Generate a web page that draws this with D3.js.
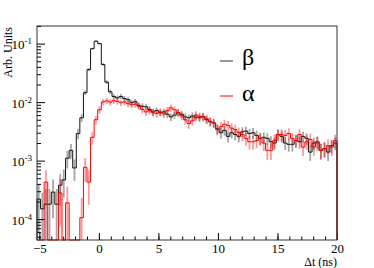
<!DOCTYPE html>
<html>
<head>
<meta charset="utf-8">
<script src="https://cdn.jsdelivr.net/npm/d3@7"></script>
<style>
  body { margin: 0; background: #fff; }
  svg, svg text { font-family: "Liberation Serif", "DejaVu Serif", serif; }
</style>
</head>
<body>
<div id="chart"></div>
<script>
// histogram binning (ns)
const binStart = -5.2;
const binWidth = 0.3;

// beta (black) contents per bin
const betaCounts = [
  2.2e-4, 1.5e-4, 1.8e-4, 1.8e-4, 2.9e-4, 1.8e-4, 3.8e-4, 4.7e-4, 1.1e-3, 1.5e-3,
  7.5e-4, 2.9e-3, 5.4e-3, 0.0145, 0.036, 0.082, 0.11, 0.1, 0.044, 0.022,
  0.015, 0.0125, 0.0118, 0.0125, 0.0115, 0.011, 0.0098, 0.0102, 0.0088, 0.0085,
  0.0083, 0.0075, 0.0068, 0.0072, 0.0066, 0.0068, 0.0062, 0.0056, 0.006, 0.0066,
  0.0062, 0.0056, 0.0054, 0.0058, 0.0055, 0.0054, 0.0057, 0.005, 0.0046, 0.0044,
  0.0035, 0.003, 0.0033, 0.0026, 0.003, 0.0028, 0.0026, 0.0031, 0.0032, 0.0029,
  0.003, 0.0027, 0.0024, 0.0025, 0.0024, 0.0021, 0.002, 0.0028, 0.0026, 0.002,
  0.0019, 0.0019, 0.0022, 0.0021, 0.0026, 0.0024, 0.0014, 0.002, 0.0021, 0.0015,
  0.0016, 0.0014, 0.0018, 0.002
];

// alpha (red) contents per bin
const alphaCounts = [
  0, 0, 4.3e-4, 0, 0, 0, 2.8e-4, 0, 1.9e-4, 0,
  0, 0, 1.06e-4, 7.7e-4, 4.3e-4, 2.5e-3, 5e-3, 0.0074, 0.0101, 0.0105,
  0.01, 0.0106, 0.0103, 0.0098, 0.0101, 0.0094, 0.009, 0.0092, 0.0085, 0.0075,
  0.0068, 0.0072, 0.0066, 0.0064, 0.0068, 0.0063, 0.0072, 0.008, 0.0074, 0.0066,
  0.0058, 0.005, 0.0043, 0.0048, 0.006, 0.0057, 0.0056, 0.0052, 0.0047, 0.0044,
  0.0034, 0.0038, 0.0042, 0.004, 0.0036, 0.0034, 0.003, 0.0028, 0.0024, 0.0021,
  0.0021, 0.0022, 0.0024, 0.002, 0.0015, 0.0015, 0.0022, 0.0028, 0.0028, 0.0027,
  0.0029, 0.0024, 0.0022, 0.0028, 0.0017, 0.0021, 0.0023, 0.0017, 0.002, 0.0015,
  0.0016, 0.0018, 0.0017, 0.0022
];

// weight of one entry, used for the sqrt(N) error bars
const betaWeight = 1.2e-4;
const alphaWeight = 1.5e-4;

const xMajorTicks = [-5, 0, 5, 10, 15, 20];
const yMajorTicks = [1e-4, 1e-3, 1e-2, 1e-1];
const legendLabels = ["β", "α"];

var margin = { top: 26, right: 37, bottom: 28, left: 37 },
  width = 374 - margin.left - margin.right,
  height = 268 - margin.top - margin.bottom;

var svg = d3
  .select("#chart")
  .append("svg")
  .attr("width", 374)
  .attr("height", 268)
  .append("g")
  .attr("transform", "translate(" + margin.left + "," + margin.top + ")");

var x = d3.scaleLinear().domain([-5.2, 20]).range([0, width]);
var y = d3.scaleLog().domain([4.4e-5, 0.2]).range([height, 0]);
var yMin = y.domain()[0];

// axes (ROOT style, ticks inside the frame)
var xAxis = svg
  .append("g")
  .attr("transform", "translate(0," + height + ")")
  .call(d3.axisBottom(x).tickValues(xMajorTicks).tickSize(-7).tickPadding(4).tickFormat(d3.format("d")));
xAxis.attr("font-family", null).select(".domain").remove();
xAxis.selectAll("text").style("font-size", "13px").attr("fill", "#000");

svg
  .append("g")
  .attr("transform", "translate(0," + height + ")")
  .call(d3.axisBottom(x).tickValues(d3.range(-5, 21, 1)).tickSize(-3.5).tickFormat(""))
  .call((g) => g.select(".domain").remove());

var yAxis = svg
  .append("g")
  .call(d3.axisLeft(y).tickValues(yMajorTicks).tickSize(-8).tickPadding(5).tickFormat(""));
yAxis.attr("font-family", null).select(".domain").remove();
yAxis
  .selectAll(".tick text")
  .attr("x", -5)
  .attr("dy", "0.4em")
  .style("font-size", "13px")
  .attr("fill", "#000")
  .each(function (d) {
    var t = d3.select(this);
    t.append("tspan").text("10");
    t.append("tspan")
      .attr("dy", "-0.55em")
      .style("font-size", "9px")
      .text("-" + Math.round(-Math.log10(d)));
  });

var yMinor = y.ticks().filter((d) => yMajorTicks.indexOf(d) < 0 && Math.abs(Math.log10(d) - Math.round(Math.log10(d))) > 1e-6);
svg
  .append("g")
  .call(d3.axisLeft(y).tickValues(yMinor).tickSize(-4).tickFormat(""))
  .call((g) => g.select(".domain").remove());

svg.selectAll(".tick line").attr("stroke", "#000");

// histograms
function binData(values, weight) {
  return values.map(function (v, i) {
    var e = Math.sqrt(v * weight);
    return {
      lo: binStart + i * binWidth,
      hi: binStart + (i + 1) * binWidth,
      mid: binStart + (i + 0.5) * binWidth,
      v: v,
      errLo: v - e,
      errHi: v + e,
    };
  });
}

function yc(v) {
  return y(Math.max(v, yMin));
}

function drawHist(values, weight, lineColor, errColor) {
  var data = binData(values, weight);

  svg
    .append("g")
    .selectAll("line")
    .data(data.filter((d) => d.v > 0))
    .enter()
    .append("line")
    .attr("x1", (d) => x(d.mid))
    .attr("x2", (d) => x(d.mid))
    .attr("y1", (d) => yc(d.errLo))
    .attr("y2", (d) => Math.max(0, yc(d.errHi)))
    .attr("stroke", errColor)
    .attr("stroke-width", 1.8);

  var pts = [];
  data.forEach(function (d) {
    pts.push([x(d.lo), yc(d.v)]);
    pts.push([x(d.hi), yc(d.v)]);
  });
  pts.unshift([x(data[0].lo), height]);
  pts.push([x(data[data.length - 1].hi), height]);

  svg
    .append("path")
    .attr("d", d3.line()(pts))
    .attr("fill", "none")
    .attr("stroke", lineColor)
    .attr("stroke-width", 1);
}

drawHist(betaCounts, betaWeight, "#111", "rgba(0,0,0,0.35)");
drawHist(alphaCounts, alphaWeight, "#ff0000", "rgba(255,0,0,0.4)");

// frame
svg
  .append("rect")
  .attr("x", 0)
  .attr("y", 0)
  .attr("width", width)
  .attr("height", height)
  .attr("fill", "none")
  .attr("stroke", "#333")
  .attr("stroke-width", 1);

// axis titles
svg
  .append("text")
  .attr("transform", "rotate(-90)")
  .attr("x", -1)
  .attr("y", -25)
  .attr("text-anchor", "end")
  .style("font-size", "12px")
  .text("Arb. Units");

svg
  .append("text")
  .attr("x", width)
  .attr("y", height + 26)
  .attr("text-anchor", "end")
  .style("font-size", "12px")
  .text("Δt (ns)");

// legend
var legendColors = ["#333", "#ff0000"];
var legend = svg
  .selectAll(".legend")
  .data(legendLabels)
  .enter()
  .append("g")
  .attr("class", "legend")
  .attr("transform", (d, i) => "translate(183," + (35 + i * 35) + ")");

legend
  .append("line")
  .attr("x1", 0)
  .attr("x2", 13)
  .attr("stroke", (d, i) => legendColors[i])
  .attr("stroke-width", 1);

legend
  .append("text")
  .attr("x", 22)
  .attr("y", (d, i) => (i === 0 ? 4 : 5))
  .style("font-size", "24px")
  .text((d) => d);
</script>
</body>
</html>
